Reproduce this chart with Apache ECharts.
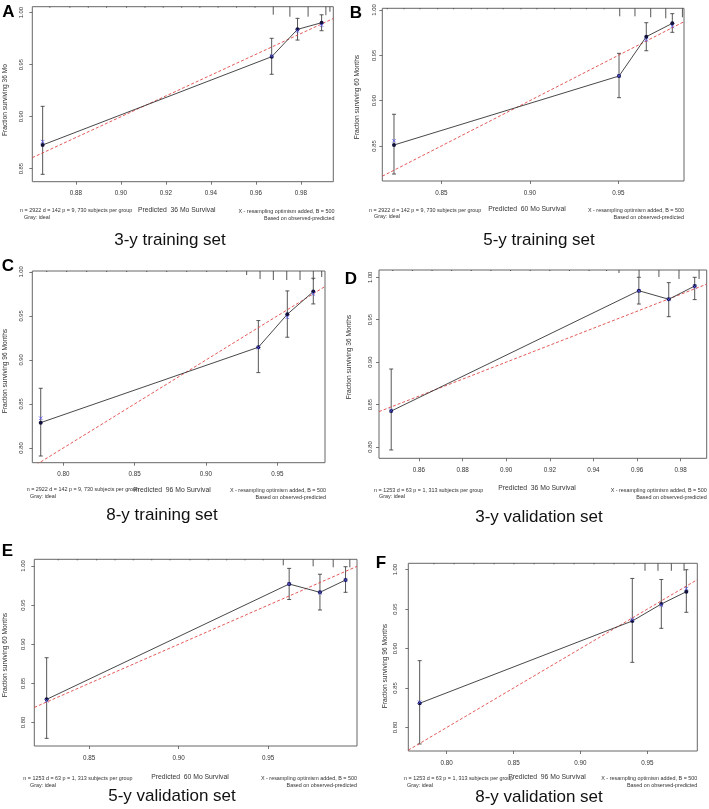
<!DOCTYPE html>
<html><head><meta charset="utf-8">
<script src="https://cdn.jsdelivr.net/npm/echarts@6/dist/echarts.min.js"></script>
<style>html,body{margin:0;padding:0;background:#fff}#c{width:709px;height:809px}</style>
</head><body><div id="c"></div>
<script>
// ---------------- DATA ----------------
// Panel A : 3-y training set
const predA = [0.8652, 0.9670, 0.9785, 0.9892];
const obsA  = [0.8728, 0.9577, 0.9840, 0.9904];
const loA   = [0.8446, 0.9408, 0.9737, 0.9827];
const hiA   = [0.9100, 0.9754, 0.9946, 0.9980];
const corA  = [0.8760, 0.9585, 0.9825, 0.9880];
const rugXA = [0.8684,0.8773,0.8855,0.8936,0.9025,0.9107,0.9188,0.9270,0.9351,0.9432,0.9514,0.9596,0.9677,0.9751,0.9832,0.9911,0.9929];
const rugNA = [0.1,0.1,0.1,0.1,0.1,0.1,0.1,0.1,0.1,0.1,0.1,0.1,0.8,1,1,0.85,0.5];
const xTicksA = [0.88,0.90,0.92,0.94,0.96,0.98];
const yTicksA = [0.85,0.90,0.95,1.00];

// Panel B : 5-y training set
const predB = [0.8233, 0.9504, 0.9658, 0.9805];
const obsB  = [0.8511, 0.9272, 0.9706, 0.9853];
const loB   = [0.8191, 0.9033, 0.9551, 0.9754];
const hiB   = [0.8850, 0.9522, 0.9860, 0.9960];
const corB  = [0.8558, 0.9275, 0.9670, 0.9820];
const rugXB = [0.8195,0.829,0.838,0.848,0.857,0.867,0.876,0.885,0.895,0.904,0.914,0.923,0.932,0.942,0.9508,0.9594,0.9683,0.9768,0.9862];
const rugNB = [0.1,0.1,0.1,0.1,0.1,0.1,0.1,0.1,0.1,0.1,0.1,0.1,0.1,0.1,0.8,0.8,0.9,1,0.9];
const xTicksB = [0.85,0.90,0.95];
const yTicksB = [0.85,0.90,0.95,1.00];

// Panel C : 8-y training set
const predC = [0.7842, 0.9367, 0.9570, 0.9752];
const obsC  = [0.8288, 0.9144, 0.9519, 0.9776];
const loC   = [0.7909, 0.8856, 0.9258, 0.9636];
const hiC   = [0.8678, 0.9447, 0.9784, 0.9928];
const corC  = [0.8338, 0.9140, 0.9485, 0.9750];
const rugXC = [0.7884,0.8024,0.8164,0.8304,0.8444,0.8585,0.8725,0.8865,0.9005,0.9145,0.9285,0.9379,0.9472,0.9566,0.9659,0.9752,0.9811];
const rugNC = [0.1,0.1,0.1,0.1,0.1,0.1,0.1,0.1,0.1,0.1,0.4,0.8,0.9,0.9,0.9,0.9,0.6];
const xTicksC = [0.80,0.85,0.90,0.95];
const yTicksC = [0.80,0.85,0.90,0.95,1.00];

// Panel D : 3-y validation set
const predD = [0.8473, 0.9608, 0.9745, 0.9864];
const obsD  = [0.8424, 0.9842, 0.9741, 0.9897];
const loD   = [0.7965, 0.9685, 0.9536, 0.9737];
const hiD   = [0.8919, 1.0000, 0.9937, 1.0000];
const corD  = [0.8430, 0.9840, 0.9740, 0.9890];
const rugXD = [0.848,0.857,0.866,0.875,0.884,0.893,0.902,0.911,0.920,0.929,0.938,0.946,0.9517,0.9609,0.9700,0.9792,0.9884];
const rugND = [0.1,0.1,0.1,0.1,0.1,0.1,0.1,0.1,0.1,0.1,0.1,0.1,0.3,0.7,0.7,0.9,0.9];
const xTicksD = [0.86,0.88,0.90,0.92,0.94,0.96,0.98];
const yTicksD = [0.80,0.85,0.90,0.95,1.00];

// Panel E : 5-y validation set
const predE = [0.8262, 0.9617, 0.9789, 0.9932];
const obsE  = [0.8296, 0.9770, 0.9664, 0.9821];
const loE   = [0.7798, 0.9572, 0.9438, 0.9664];
const hiE   = [0.8828, 0.9970, 0.9895, 0.9991];
const corE  = [0.8280, 0.9770, 0.9660, 0.9820];
const rugXE = [0.8327,0.8433,0.8541,0.8644,0.8746,0.8849,0.8951,0.9063,0.9165,0.9268,0.9370,0.9472,0.9584,0.9751,0.9863,0.9956];
const rugNE = [0.1,0.1,0.1,0.1,0.1,0.1,0.1,0.1,0.1,0.1,0.1,0.1,0.6,0.7,0.8,0.8];
const xTicksE = [0.85,0.90,0.95];
const yTicksE = [0.80,0.85,0.90,0.95,1.00];

// Panel F : 8-y validation set
const predF = [0.7798, 0.9388, 0.9605, 0.9792];
const obsF  = [0.8307, 0.9350, 0.9565, 0.9721];
const loF   = [0.7791, 0.8826, 0.9257, 0.9460];
const hiF   = [0.8847, 0.9889, 0.9876, 1.0000];
const corF  = [0.8320, 0.9370, 0.9550, 0.9760];
const rugXF = [0.7905,0.8055,0.8204,0.8354,0.8503,0.8653,0.8802,0.8952,0.9102,0.9251,0.9401,0.9483,0.9580,0.9680,0.9775];
const rugNF = [0.1,0.1,0.1,0.1,0.1,0.1,0.1,0.1,0.1,0.1,0.1,0.75,0.75,0.75,0.75];
const xTicksF = [0.80,0.85,0.90,0.95];
const yTicksF = [0.80,0.85,0.90,0.95,1.00];

const footTrain = ['n = 2922 d = 142 p = 9, 730 subjects per group', 'Gray: ideal'];
const footValid = ['n = 1253 d = 63 p = 1, 313 subjects per group', 'Gray: ideal'];
const footRight = ['X - resampling optimism added, B = 500', 'Based on observed-predicted'];

// ---------------- LAYOUT ----------------
const FONT = '"Liberation Sans", Arial, Helvetica, sans-serif';
const panels = [
  {letter:'A', pred:predA, obs:obsA, lo:loA, hi:hiA, cor:corA, rugX:rugXA, rugN:rugNA, xt:xTicksA, yt:yTicksA,
   grid:{left:32.3, top:6.7, width:301, height:175}, xr:[0.8606,0.9944], yr:[0.8375,1.0058], ym:7.5,
   letterPos:[8.5,12], yTitle:'Fraction surviving 36 Mo', yTitlePos:[5,100], xTitle:'Predicted  36 Mo Survival', xTitlePos:[176.7,210],
   foot:footTrain, footL:[20,211,24], footR:[334.5,211.7], caption:'3-y training set', capPos:[170,240]},
  {letter:'B', pred:predB, obs:obsB, lo:loB, hi:hiB, cor:corB, rugX:rugXB, rugN:rugNB, xt:xTicksB, yt:yTicksB,
   grid:{left:382.3, top:8.3, width:301.7, height:172.7}, xr:[0.8167,0.9871], yr:[0.8114,1.0019], ym:5,
   letterPos:[356,13], yTitle:'Fraction surviving 60 Months', yTitlePos:[357.5,97], xTitle:'Predicted  60 Mo Survival', xTitlePos:[527,209],
   foot:footTrain, footL:[369,210.7,374], footR:[684,211], caption:'5-y training set', capPos:[539,240]},
  {letter:'C', pred:predC, obs:obsC, lo:loC, hi:hiC, cor:corC, rugX:rugXC, rugN:rugNC, xt:xTicksC, yt:yTicksC,
   grid:{left:32.3, top:271, width:292.7, height:191.7}, xr:[0.7783,0.9834], yr:[0.7833,1.001], ym:8,
   letterPos:[8,266], yTitle:'Fraction surviving 96 Months', yTitlePos:[5,371], xTitle:'Predicted  96 Mo Survival', xTitlePos:[172,490],
   foot:footTrain, footL:[26.7,490,30], footR:[326,490.7], caption:'8-y training set', capPos:[162,515]},
  {letter:'D', pred:predD, obs:obsD, lo:loD, hi:hiD, cor:corD, rugX:rugXD, rugN:rugND, xt:xTicksD, yt:yTicksD,
   grid:{left:379, top:270, width:327.7, height:188.3}, xr:[0.8417,0.9919], yr:[0.7867,1.0086], ym:6,
   letterPos:[351,279], yTitle:'Fraction surviving 36 Months', yTitlePos:[349,357], xTitle:'Predicted  36 Mo Survival', xTitlePos:[537,488],
   foot:footValid, footL:[374,490.7,379], footR:[706.7,491], caption:'3-y validation set', capPos:[539,517]},
  {letter:'E', pred:predE, obs:obsE, lo:loE, hi:hiE, cor:corE, rugX:rugXE, rugN:rugNE, xt:xTicksE, yt:yTicksE,
   grid:{left:34.3, top:559.3, width:322.7, height:186.7}, xr:[0.8193,0.9996], yr:[0.770,1.0086], ym:8,
   letterPos:[7.5,551], yTitle:'Fraction surviving 60 Months', yTitlePos:[5,655], xTitle:'Predicted  60 Mo Survival', xTitlePos:[190,777],
   foot:footValid, footL:[23.3,779,30], footR:[357,779], caption:'5-y validation set', capPos:[172,796]},
  {letter:'F', pred:predF, obs:obsF, lo:loF, hi:hiF, cor:corF, rugX:rugXF, rugN:rugNF, xt:xTicksF, yt:yTicksF,
   grid:{left:408.3, top:563.3, width:289, height:187.7}, xr:[0.7713,0.9874], yr:[0.7702,1.0081], ym:9.5,
   letterPos:[381,563], yTitle:'Fraction surviving 96 Months', yTitlePos:[385,666], xTitle:'Predicted  96 Mo Survival', xTitlePos:[547,777],
   foot:footValid, footL:[404,779,407], footR:[697.3,779], caption:'8-y validation set', capPos:[539,797]}
];

const grids = [], xAxes = [], yAxes = [], series = [], graphic = [];
const AX = '#555', TXT = '#333';

function txt(x, y, text, size, opt) {
  opt = opt || {};
  return {type:'text', x:x, y:y, rotation:opt.rot || 0, silent:true,
    style:{text:text, fontSize:size, fontFamily:FONT, fontWeight:opt.bold ? 'bold' : 'normal',
      fill:opt.fill || TXT, align:opt.align || 'center', textAlign:opt.align || 'center',
      verticalAlign:'middle', textVerticalAlign:'middle'}};
}

panels.forEach((p, i) => {
  grids.push(Object.assign({show:true, borderColor:'#666', borderWidth:1, backgroundColor:'transparent'}, p.grid));
  xAxes.push({type:'value', gridIndex:i, min:p.xr[0], max:p.xr[1],
    axisLine:{show:false}, splitLine:{show:false},
    axisTick:{show:true, inside:false, length:3, customValues:p.xt, lineStyle:{color:AX, width:0.8}},
    axisLabel:{show:true, customValues:p.xt, margin:9, fontSize:6.3, fontFamily:FONT, color:TXT,
      formatter:v => v.toFixed(2)}});
  yAxes.push({type:'value', gridIndex:i, min:p.yr[0], max:p.yr[1],
    axisLine:{show:false}, splitLine:{show:false},
    axisTick:{show:true, inside:false, length:3, customValues:p.yt, lineStyle:{color:AX, width:0.8}},
    axisLabel:{show:true, customValues:p.yt, rotate:90, margin:p.ym, fontSize:5.8, fontFamily:FONT, color:TXT,
      formatter:v => v.toFixed(2)}});

  // ideal line (y = x), clipped by grid
  series.push({type:'line', xAxisIndex:i, yAxisIndex:i, silent:true, symbol:'none', z:3,
    data:[[p.xr[0], p.xr[0]], [p.xr[1], p.xr[1]]],
    lineStyle:{color:'#e04646', width:0.9, type:[3,2]}, clip:true});

  // error bars
  series.push({type:'custom', xAxisIndex:i, yAxisIndex:i, silent:true, z:2,
    data:p.pred.map((x, k) => [x, p.lo[k], p.hi[k]]),
    renderItem:(params, api) => {
      const x = api.value(0);
      const a = api.coord([x, api.value(2)]), b = api.coord([x, api.value(1)]);
      const w = 2, st = {stroke:'#444', lineWidth:0.9};
      return {type:'group', children:[
        {type:'line', shape:{x1:a[0], y1:a[1], x2:b[0], y2:b[1]}, style:st},
        {type:'line', shape:{x1:a[0]-w, y1:a[1], x2:a[0]+w, y2:a[1]}, style:st},
        {type:'line', shape:{x1:b[0]-w, y1:b[1], x2:b[0]+w, y2:b[1]}, style:st}
      ]};
    }});

  // observed calibration line + points
  series.push({type:'line', xAxisIndex:i, yAxisIndex:i, silent:true, z:4,
    data:p.pred.map((x, k) => [x, p.obs[k]]),
    symbol:'circle', symbolSize:4, itemStyle:{color:'#12123c'},
    lineStyle:{color:'#333', width:0.9}});

  // bias-corrected X markers
  series.push({type:'custom', xAxisIndex:i, yAxisIndex:i, silent:true, z:5,
    data:p.pred.map((x, k) => [x, p.cor[k]]),
    renderItem:(params, api) => {
      const c = api.coord([api.value(0), api.value(1)]);
      const s = 1.8, st = {stroke:'#5a5af0', lineWidth:0.8};
      return {type:'group', children:[
        {type:'line', shape:{x1:c[0]-s, y1:c[1]-s, x2:c[0]+s, y2:c[1]+s}, style:st},
        {type:'line', shape:{x1:c[0]-s, y1:c[1]+s, x2:c[0]+s, y2:c[1]-s}, style:st}
      ]};
    }});

  // spike histogram of predictions along the top
  series.push({type:'custom', xAxisIndex:i, yAxisIndex:i, silent:true, z:3,
    data:p.rugX.map((x, k) => [x, p.rugN[k]]),
    renderItem:(params, api) => {
      const cs = params.coordSys;
      const c = api.coord([api.value(0), p.yr[1]]);
      const len = api.value(1) * 10;
      return {type:'line', shape:{x1:c[0], y1:cs.y, x2:c[0], y2:cs.y + len},
        style:{stroke:'#444', lineWidth:0.9}};
    }});

  // texts
  graphic.push(txt(p.letterPos[0], p.letterPos[1], p.letter, 17, {bold:true, fill:'#000'}));
  graphic.push(txt(p.yTitlePos[0], p.yTitlePos[1], p.yTitle, 6.6, {rot:Math.PI/2}));
  graphic.push(txt(p.xTitlePos[0], p.xTitlePos[1], p.xTitle, 6.8));
  graphic.push(txt(p.footL[0], p.footL[1], p.foot[0], 5.4, {align:'left'}));
  graphic.push(txt(p.footL[2], p.footL[1] + 6.3, p.foot[1], 5.4, {align:'left'}));
  graphic.push(txt(p.footR[0], p.footR[1], footRight[0], 5.4, {align:'right'}));
  graphic.push(txt(p.footR[0], p.footR[1] + 6.5, footRight[1], 5.4, {align:'right'}));
  graphic.push(txt(p.capPos[0], p.capPos[1], p.caption, 17, {fill:'#111'}));
});

const chart = echarts.init(document.getElementById('c'), null, {renderer:'canvas'});
chart.setOption({animation:false, backgroundColor:'#fff',
  grid:grids, xAxis:xAxes, yAxis:yAxes, series:series, graphic:graphic});
</script>
</body></html>
